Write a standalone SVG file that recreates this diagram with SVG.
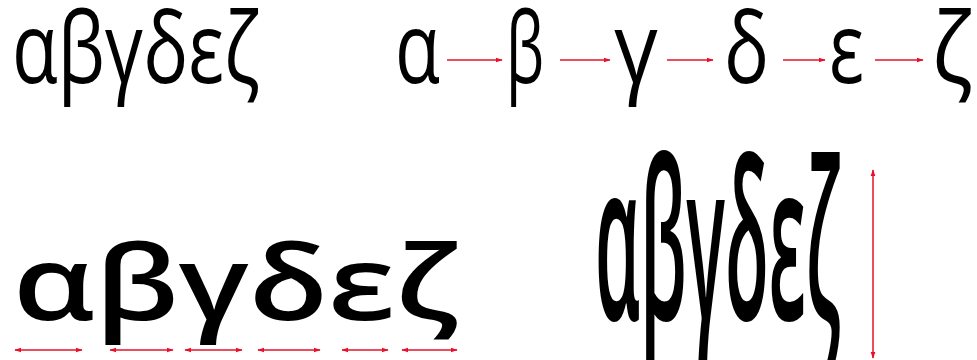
<svg xmlns="http://www.w3.org/2000/svg" width="977" height="360" viewBox="0 0 977 360">
<defs>
<style>
.g{font-family:"Open Sans","DejaVu Sans",sans-serif;font-weight:500;fill:#000}
.t{font-family:"Open Sans","DejaVu Sans",sans-serif;font-weight:600;fill:#000}
.b{font-family:"Open Sans","DejaVu Sans",sans-serif;font-weight:600;fill:#000}
.ar{stroke:#e8102a;stroke-width:1.5;fill:none}
</style>
<marker id="ah" viewBox="0 0 10 10" refX="9" refY="5" markerWidth="7" markerHeight="7" orient="auto-start-reverse" markerUnits="userSpaceOnUse">
<path d="M0,1.5 L10,5 L0,8.5 Z" fill="#e8102a"/>
</marker>
</defs>
<rect width="977" height="360" fill="#fff"/>
<g id="normal">
<text class="g" x="12" y="83" font-size="98" textLength="248" lengthAdjust="spacingAndGlyphs">αβγδεζ</text>
</g>
<g id="tracked">
<text class="g" x="395" y="83" font-size="98" textLength="45" lengthAdjust="spacingAndGlyphs">α</text>
<text class="g" x="506" y="83" font-size="98" textLength="38" lengthAdjust="spacingAndGlyphs">β</text>
<text class="g" x="614" y="83" font-size="98" textLength="44" lengthAdjust="spacingAndGlyphs">γ</text>
<text class="g" x="724" y="83" font-size="98" textLength="45" lengthAdjust="spacingAndGlyphs">δ</text>
<text class="g" x="829" y="83" font-size="98" textLength="35" lengthAdjust="spacingAndGlyphs">ε</text>
<text class="g" x="932" y="83" font-size="98" textLength="41" lengthAdjust="spacingAndGlyphs">ζ</text>
</g>
<g id="wide">
<text class="b" x="13" y="320" font-size="104" textLength="446" lengthAdjust="spacingAndGlyphs">αβγδεζ</text>
</g>
<g id="tall">
<text class="t" x="595" y="320" font-size="222" textLength="246" lengthAdjust="spacingAndGlyphs">αβγδεζ</text>
</g>
<g id="connectors">
<line class="ar" x1="447" y1="60" x2="502" y2="60" marker-end="url(#ah)"/>
<line class="ar" x1="560" y1="60" x2="610" y2="60" marker-end="url(#ah)"/>
<line class="ar" x1="667" y1="60" x2="713" y2="60" marker-end="url(#ah)"/>
<line class="ar" x1="783" y1="60" x2="825" y2="60" marker-end="url(#ah)"/>
<line class="ar" x1="875" y1="60" x2="923" y2="60" marker-end="url(#ah)"/>
<line class="ar" x1="15" y1="350" x2="82" y2="350" marker-start="url(#ah)" marker-end="url(#ah)"/>
<line class="ar" x1="110" y1="350" x2="173" y2="350" marker-start="url(#ah)" marker-end="url(#ah)"/>
<line class="ar" x1="185" y1="350" x2="242" y2="350" marker-start="url(#ah)" marker-end="url(#ah)"/>
<line class="ar" x1="258" y1="350" x2="320" y2="350" marker-start="url(#ah)" marker-end="url(#ah)"/>
<line class="ar" x1="342" y1="350" x2="388" y2="350" marker-start="url(#ah)" marker-end="url(#ah)"/>
<line class="ar" x1="402" y1="350" x2="457" y2="350" marker-start="url(#ah)" marker-end="url(#ah)"/>
<line class="ar" x1="873" y1="170" x2="873" y2="358" marker-start="url(#ah)" marker-end="url(#ah)"/>
</g>
</svg>
